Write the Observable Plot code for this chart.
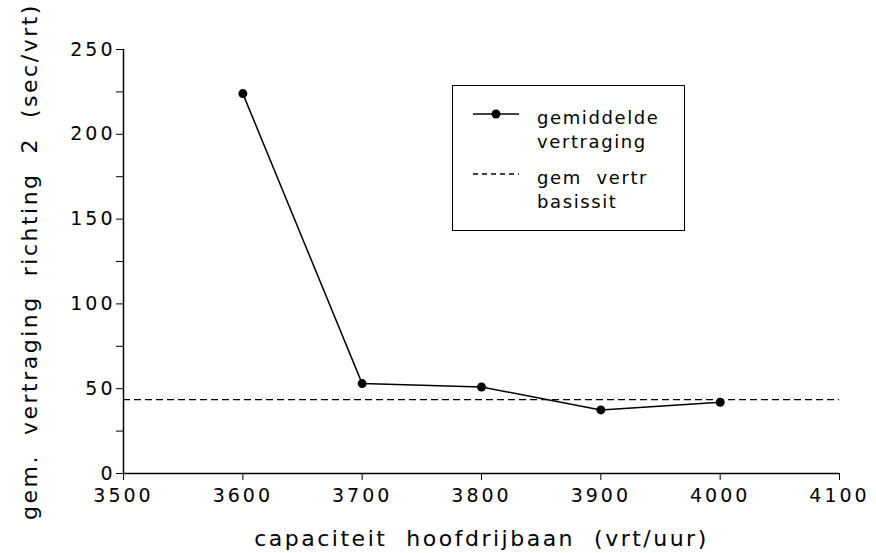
<!DOCTYPE html>
<html><head><meta charset="utf-8">
<script src="https://cdn.jsdelivr.net/npm/d3@7"></script>
<script src="https://cdn.jsdelivr.net/npm/@observablehq/plot@0.6"></script>
<style>
body{margin:0;background:#fff;}
#wrap{position:relative;width:876px;height:553px;}
svg text{letter-spacing:3px;}
#legend{position:absolute;left:452px;top:85px;width:233px;height:146px;border:1.5px solid #000;box-sizing:border-box;background:#fff;font-family:"DejaVu Sans",sans-serif;font-size:18px;letter-spacing:1.6px;color:#000;}
.row{position:absolute;left:0;}
.row svg{position:absolute;left:18px;}
.row div{position:absolute;left:84px;line-height:24px;white-space:nowrap;}
</style></head>
<body><div id="wrap"></div>
<script>
const capaciteit = [3600, 3700, 3800, 3900, 4000];
const vertraging = [224, 53, 51, 37.5, 42];
const basisNiveau = 43.5;
const xTicks = [3500, 3600, 3700, 3800, 3900, 4000, 4100];
const yTicks = [0, 25, 50, 75, 100, 125, 150, 175, 200, 225, 250];
const yLabels = [0, 50, 100, 150, 200, 250];
const legendLabels = ["gemiddelde vertraging", "gem  vertr basissit"];

const data = capaciteit.map((c, i) => ({c, v: vertraging[i]}));

const chart = Plot.plot({
  width: 876, height: 553,
  marginLeft: 123, marginRight: 37, marginTop: 49, marginBottom: 80,
  style: {fontFamily: "DejaVu Sans, sans-serif", fontSize: "19px", color: "#000", background: "#fff"},
  x: {domain: [3500, 4100], ticks: xTicks, tickSize: 7, tickPadding: 8, tickFormat: d => String(d),
      label: "capaciteit  hoofdrijbaan  (vrt/uur)", labelAnchor: "center", labelArrow: "none", labelOffset: 72},
  y: {domain: [0, 250], ticks: yTicks, tickSize: 7, tickPadding: 1,
      tickFormat: d => yLabels.includes(d) ? String(d) : "",
      label: "gem.  vertraging  richting  2  (sec/vrt)", labelAnchor: "center", labelArrow: "none", labelOffset: 102},
  marks: [
    Plot.ruleY([0], {stroke: "#000", strokeWidth: 1.5}),
    Plot.ruleX([3500], {stroke: "#000", strokeWidth: 1.5}),
    Plot.ruleY([basisNiveau], {stroke: "#000", strokeWidth: 1.3, strokeDasharray: "7,4"}),
    Plot.line(data, {x: "c", y: "v", stroke: "#000", strokeWidth: 1.5}),
    Plot.dot(data, {x: "c", y: "v", fill: "#000", r: 4.5})
  ]
});
chart.querySelectorAll("g[aria-label='x-axis label'] text, g[aria-label='y-axis label'] text").forEach(t => {
  t.style.fontSize = "22px"; t.style.letterSpacing = "2.5px";
});
const wrap = document.getElementById("wrap");
wrap.appendChild(chart);

const leg = document.createElement("div");
leg.id = "legend";
const l1 = legendLabels[0].split(" "), l2 = [legendLabels[1].split(" basissit")[0], "basissit"];
leg.innerHTML = `
<div class="row" style="top:20px;"><svg width="50" height="20" style="top:-2px"><line x1="2" y1="10" x2="48" y2="10" stroke="#000" stroke-width="1.5"/><circle cx="25" cy="10" r="4.5" fill="#000"/></svg>
<div style="top:0">${l1[0]}</div><div style="top:24px">${l1[1]}</div></div>
<div class="row" style="top:80px;"><svg width="50" height="20" style="top:-2px"><line x1="2" y1="10" x2="48" y2="10" stroke="#000" stroke-width="1.3" stroke-dasharray="5,4"/></svg>
<div style="top:0;white-space:pre">${l2[0]}</div><div style="top:24px">${l2[1]}</div></div>`;
wrap.appendChild(leg);
</script></body></html>
